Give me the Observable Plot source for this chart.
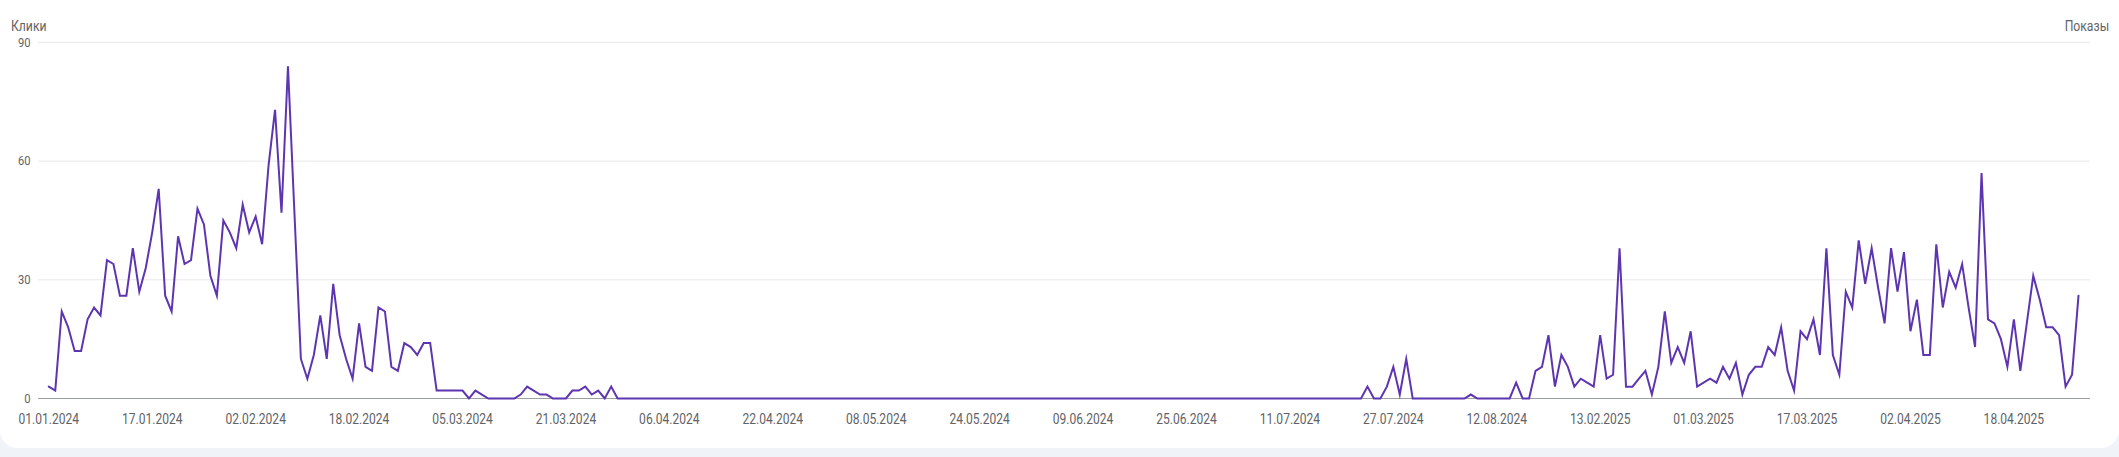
<!DOCTYPE html>
<html>
<head>
<meta charset="utf-8">
<script src="https://cdn.jsdelivr.net/npm/d3@7"></script>
<script src="https://cdn.jsdelivr.net/npm/@observablehq/plot@0.6"></script>
<style>
  html, body { margin: 0; padding: 0; background: #f0f4f9; }
  body { width: 2119px; height: 457px; overflow: hidden; position: relative; font-family: Roboto, "Noto Sans", sans-serif; }
  #card { position: absolute; left: 0; top: 0; width: 2119px; height: 448px; background: #fff; border-radius: 0 0 18px 18px; }
  .lbl { position: absolute; top: 17px; font-size: 14px; line-height: 18px; color: #5f6368; white-space: nowrap; }
  #l1 { left: 11px; transform: scaleX(0.87); transform-origin: left center; }
  #l2 { right: 10px; transform: scaleX(0.87); transform-origin: right center; }
  #chart { position: absolute; left: 0; top: 0; }
</style>
</head>
<body>
<div id="card">
  <div class="lbl" id="l1">Клики</div>
  <div class="lbl" id="l2">Показы</div>
  <div id="chart"></div>
</div>
<script>
// Date periods present in the report (2024 part, then 2025 part)
const periodStarts = ["2024-01-01", "2025-01-31"];
const periodLengths = [227, 88];

// Daily clicks ("Клики")
const clicks = [
  3,2,22,18,12,12,20,23,21,35,34,26,26,38,27,33,42,53,26,22,41,34,35,48,44,31,26,45,42,38,49,42,46,39,59,73,47,84,
  47,10,5,11,21,10,29,16,10,5,19,8,7,23,22,8,7,14,13,11,14,14,
  2,2,2,2,2,0,2,1,0,0,0,0,0,1,3,2,1,1,0,0,0,2,2,3,1,2,0,3,0,
  0,0,0,0,0,0,0,0,0,0,0,0,0,0,0,0,0,0,0,
  0,0,0,0,0,0,0,0,0,0,0,0,0,0,0,0,0,0,0,
  0,0,0,0,0,0,0,0,0,0,0,0,0,0,0,0,0,0,0,
  0,0,0,0,0,0,0,0,0,0,0,0,0,0,0,0,0,0,0,
  0,0,0,0,0,0,0,0,0,0,0,0,0,0,0,0,0,0,0,
  0,0,0,0,0,0,0,0,0,0,0,0,0,0,0,0,0,0,0,
  0,3,0,0,3,8,1,10,0,
  0,0,0,0,0,0,0,0,
  1,
  0,0,0,0,0,0,
  4,0,0,7,8,16,3,11,8,3,5,4,3,16,5,6,38,3,3,5,
  7,1,8,22,9,13,9,17,3,4,5,4,8,5,9,1,6,8,8,13,11,18,7,2,17,15,20,11,38,11,6,27,23,40,
  29,38,28,19,38,27,37,17,25,11,11,39,23,32,28,34,23,13,57,20,19,15,8,20,7,19,31,25,18,18,16,3,6,26
];

// Axis tick labels
const tickLabels = ["01.01.2024","17.01.2024","02.02.2024","18.02.2024","05.03.2024","21.03.2024","06.04.2024",
  "22.04.2024","08.05.2024","24.05.2024","09.06.2024","25.06.2024","11.07.2024","27.07.2024","12.08.2024",
  "13.02.2025","01.03.2025","17.03.2025","02.04.2025","18.04.2025"];
const yTicks = [0, 30, 60, 90];

// Build the date categories
const fmt = d3.utcFormat("%d.%m.%Y");
const dates = [];
periodStarts.forEach((s, k) => {
  const start = new Date(s + "T00:00:00Z");
  for (let j = 0; j < periodLengths[k]; j++) dates.push(fmt(d3.utcDay.offset(start, j)));
});
const rows = dates.map((d, i) => ({date: d, clicks: clicks[i]}));

const chart = Plot.plot({
  width: 2119,
  height: 448,
  marginLeft: 38,
  marginRight: 29,
  marginTop: 42,
  marginBottom: 50,
  style: {fontFamily: "Roboto, 'Noto Sans', sans-serif", fontSize: "14px", color: "#5f6368", background: "transparent", overflow: "visible"},
  x: {type: "point", domain: dates, padding: 0, insetLeft: 10.3, insetRight: 12},
  y: {domain: [0, 90]},
  marks: [
    Plot.ruleY(yTicks.filter(d => d > 0), {stroke: "#e8e8e8", strokeWidth: 1}),
    Plot.ruleY([0], {stroke: "#9aa0a6", strokeWidth: 1.2}),
    Plot.axisY(yTicks, {tickSize: 0, tickPadding: 8, fontSize: 13, fill: "#5f6368", label: null}),
    Plot.axisX(tickLabels, {tickSize: 0, tickPadding: 16, fontSize: 14, fill: "#5f6368", label: null}),
    Plot.line(rows, {x: "date", y: "clicks", stroke: "#5e35b1", strokeWidth: 2, strokeLinejoin: "miter", strokeMiterlimit: 6})
  ]
});
document.getElementById("chart").appendChild(chart);

// The reference text is rendered narrow: compress glyphs horizontally
d3.select(chart).selectAll("text").each(function() {
  const L = this.getComputedTextLength();
  if (L > 0) {
    this.setAttribute("textLength", (L * 0.86).toFixed(2));
    this.setAttribute("lengthAdjust", "spacingAndGlyphs");
  }
});
</script>
</body>
</html>
